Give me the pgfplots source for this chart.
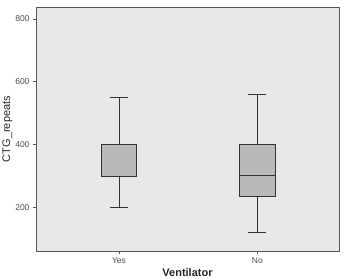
\documentclass[border=0pt]{standalone}
\usepackage{pgfplots}
\pgfplotsset{compat=1.18}
\usepackage{fontspec}
\setmainfont{Liberation Sans}
\definecolor{bgc}{HTML}{E8E8E8}
\definecolor{boxc}{HTML}{B9B9B9}
\definecolor{framec}{HTML}{555555}
\begin{document}
\begin{tikzpicture}
\useasboundingbox (0pt,0pt) rectangle (344pt,278pt);
\begin{axis}[
  at={(36pt,27pt)}, anchor=south west,
  scale only axis, width=303pt, height=244pt,
  xmin=-0.6, xmax=1.59, ymin=61, ymax=838,
  xtick={0,1}, xticklabels={Yes,No},
  ytick={200,400,600,800},
  axis background/.style={fill=bgc},
  axis line style={framec, line width=0.9pt},
  tick style={framec, line width=0.7pt},
  tick align=outside, major tick length=3pt,
  xtick pos=left, ytick pos=left,
  /pgf/number format/assume math mode=true,
  ticklabel style={font=\fontsize{8.5}{9}\selectfont, text=black!70},
  xlabel={\textbf{Ventilator}}, ylabel={CTG\_repeats},
  label style={font=\fontsize{11}{12}\selectfont, text=black!85},
  xlabel style={yshift=2pt},
  ylabel style={yshift=-4pt},
  wl/.style={draw=black!80, line width=0.8pt, mark=none, solid},
]
% Yes
\addplot[wl] coordinates {(0,400) (0,550)};
\addplot[wl] coordinates {(-0.065,550) (0.065,550)};
\addplot[wl] coordinates {(0,300) (0,200)};
\addplot[wl] coordinates {(-0.065,200) (0.065,200)};
\addplot[wl, fill=boxc] coordinates {(-0.127,300) (0.127,300) (0.127,400) (-0.127,400)} --cycle;
\addplot[wl, line width=1.1pt] coordinates {(-0.127,400) (0.127,400)};
% No
\addplot[wl] coordinates {(1,400) (1,560)};
\addplot[wl] coordinates {(0.935,560) (1.065,560)};
\addplot[wl] coordinates {(1,235) (1,120)};
\addplot[wl] coordinates {(0.935,120) (1.065,120)};
\addplot[wl, fill=boxc] coordinates {(0.873,235) (1.127,235) (1.127,400) (0.873,400)} --cycle;
\addplot[wl, line width=1.1pt] coordinates {(0.873,300) (1.127,300)};
\end{axis}
\end{tikzpicture}
\end{document}
